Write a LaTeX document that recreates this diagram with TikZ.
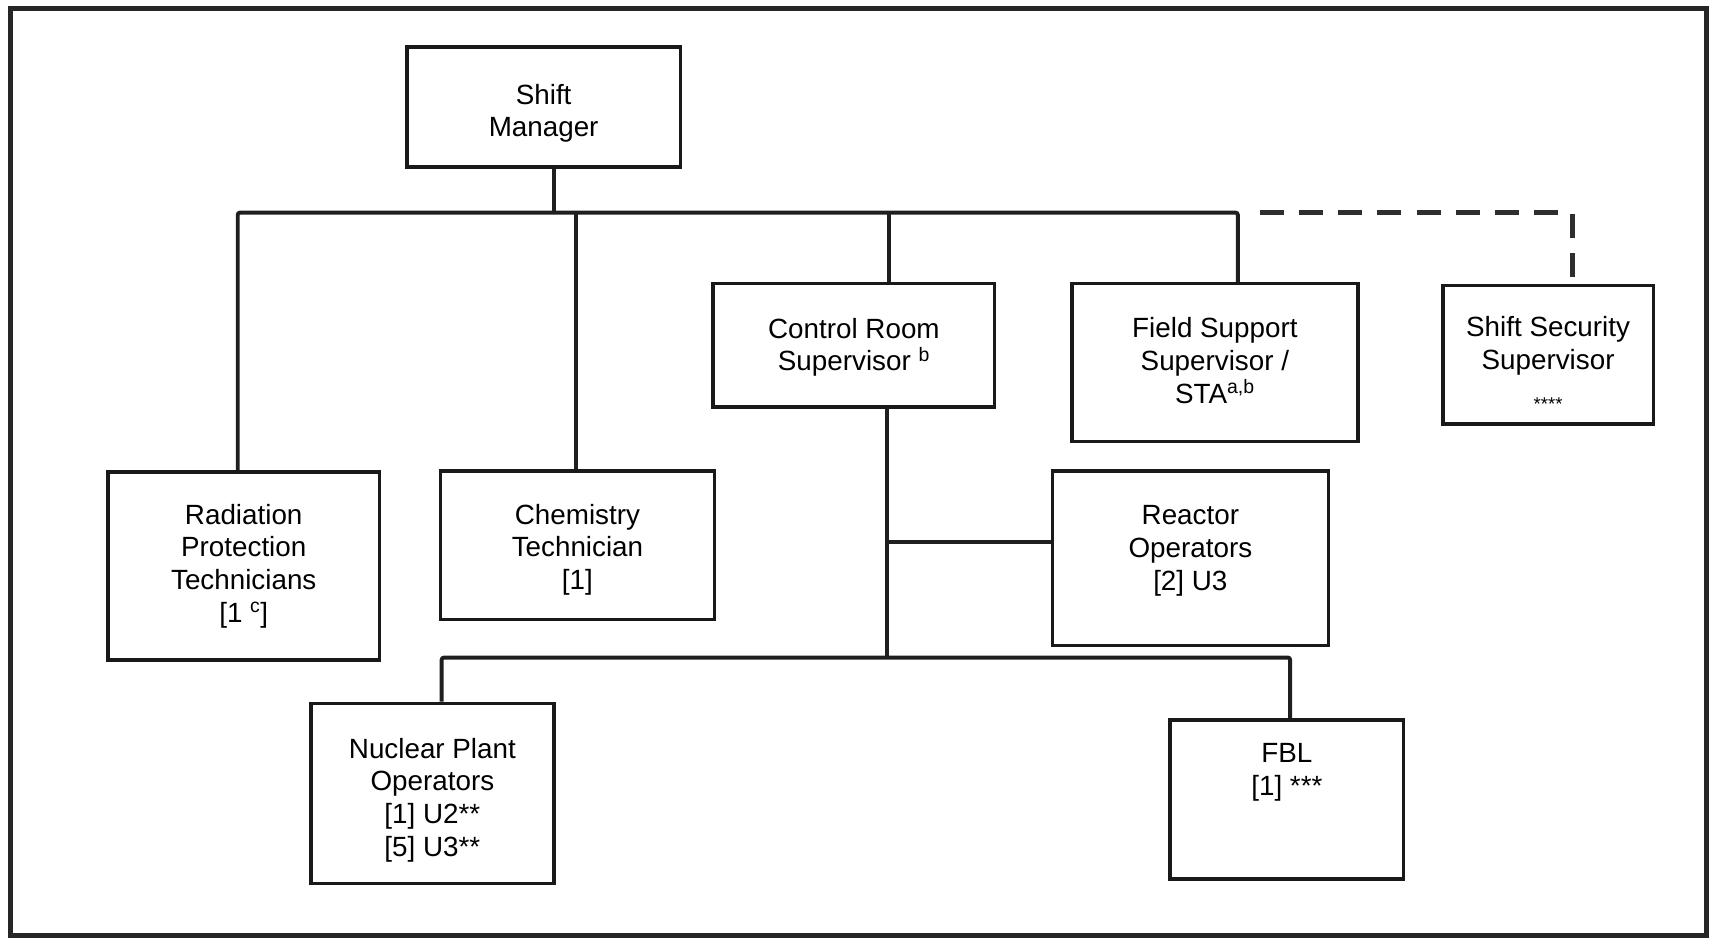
\documentclass[tikz,border=0pt]{standalone}
\usepackage{fontspec}
\setmainfont{Liberation Sans}
\begin{document}
\begin{tikzpicture}[x=1pt,y=-1pt,
  box/.style={draw=black!90, line width=3.2pt, inner sep=0pt},
  txt/.style={inner sep=0pt, align=center, font=\fontsize{25.5}{30}\selectfont},
  conn/.style={draw=black!88, line width=3.6pt, rounded corners=2pt},
  dashline/.style={draw=black!82, line width=4.5pt, dash pattern=on 22pt off 14pt}]
\useasboundingbox (0,0) rectangle (1568,860);
\draw[draw=black!85, line width=4.5pt] (10,8) rectangle (1565,858);

% boxes
\node[box, minimum width=251pt, minimum height=110pt] (sm) at (498.5,98) {};
\node[txt, yshift=-6pt] (smtxt) at (sm.center) {Shift\\Manager};
\node[box, minimum width=249pt, minimum height=172pt] (rpt) at (223.5,519) {};
\node[txt] (rpttxt) at (rpt.center)
  {Radiation\\Protection\\Technicians\\{[}1 \textsuperscript{c}{]}};
\node[box, minimum width=251pt, minimum height=136pt] (cht) at (529.5,500) {};
\node[txt, yshift=-4pt] (chttxt) at (cht.center) {Chemistry\\Technician\\{[}1{]}};
\node[box, minimum width=258pt, minimum height=113pt] (crs) at (783,316.5) {};
\node[txt, yshift=-2pt] (crstxt) at (crs.center) {Control Room\\Supervisor \textsuperscript{b}};
\node[box, minimum width=262pt, minimum height=145pt] (fss) at (1114,332.5) {};
\node[txt, yshift=2pt] (fsstxt) at (fss.center) {Field Support\\Supervisor /\\STA\textsuperscript{a,b}};
\node[box, minimum width=193pt, minimum height=127pt] (sss) at (1419.5,325.5) {};
\node[txt, yshift=-8pt] (ssstxt) at (sss.center)
  {Shift Security\\Supervisor\\[8pt]{\fontsize{17}{20}\selectfont ****}};
\node[box, minimum width=253pt, minimum height=160pt] (ro) at (1091.5,512) {};
\node[txt, yshift=7pt] (rotxt) at (ro.center) {Reactor\\Operators\\{[}2{]} U3};
\node[box, minimum width=223pt, minimum height=165pt] (npo) at (396.5,727.5) {};
\node[txt, yshift=-6pt] (npotxt) at (npo.center)
  {Nuclear Plant\\Operators\\{[}1{]} U2**\\{[}5{]} U3**};
\node[box, minimum width=214pt, minimum height=146pt] (fbl) at (1180,733) {};
\node[txt, yshift=25pt] (fbltxt) at (fbl.center) {FBL\\{[}1{]} ***};

% junction points
\coordinate (busL) at (218,195);
\coordinate (busR) at (1135,195);
\coordinate (smJ) at (508,195);
\coordinate (chJ) at (528,195);
\coordinate (crJ) at (815,195);
\coordinate (dashS) at (1155,195);
\coordinate (dashC) at (1442,195);
\coordinate (lbJ) at (813,603);
\coordinate (lbL) at (405,603);
\coordinate (lbR) at (1183,603);
\coordinate (roJ) at (813,497);

% connectors
\draw[conn] (rpt.north -| busL) -- (busL) -- (busR) -- (fss.north -| busR);
\draw[conn] (sm.south -| smJ) -- (smJ);
\draw[conn] (chJ) -- (cht.north -| chJ);
\draw[conn] (crJ) -- (crs.north -| crJ);
\draw[dashline] (dashS) -- (dashC) -- (sss.north -| dashC);
\draw[conn] (crs.south -| lbJ) -- (lbJ);
\draw[conn] (roJ) -- (ro.west |- roJ);
\draw[conn] (npo.north -| lbL) -- (lbL) -- (lbR) -- (fbl.north -| lbR);
\end{tikzpicture}
\end{document}
